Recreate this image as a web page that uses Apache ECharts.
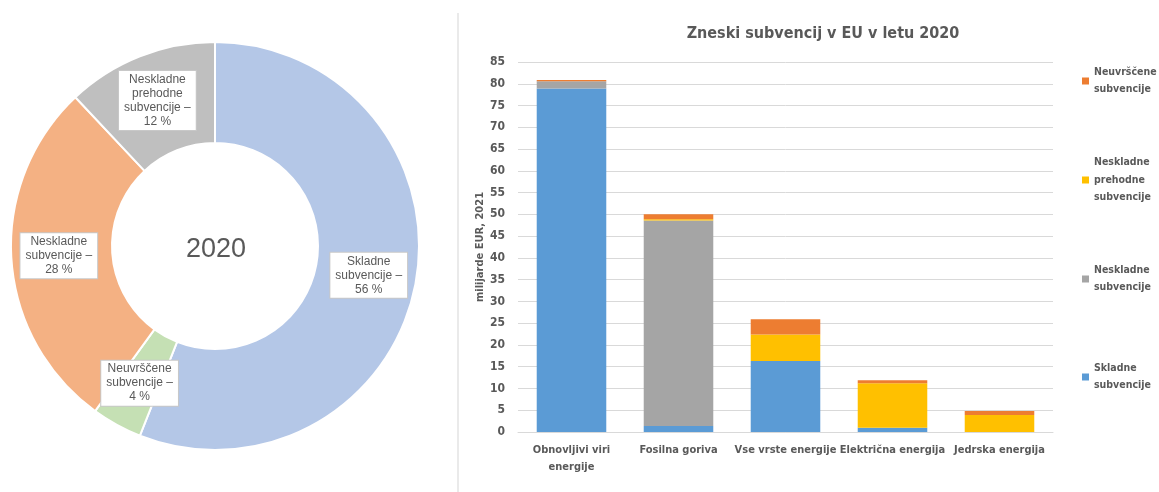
<!DOCTYPE html>
<html>
<head>
<meta charset="utf-8">
<script src="https://cdn.jsdelivr.net/npm/echarts@6/dist/echarts.min.js"></script>
<style>
html,body{margin:0;padding:0;background:#fff;}
#chart{width:1159px;height:492px;}
</style>
</head>
<body>
<div id="chart"></div>
<script>
// ---- Donut data ----
var pieNames = ['Skladne subvencije', 'Neuvrščene subvencije', 'Neskladne subvencije', 'Neskladne prehodne subvencije'];
var pieValues = [56, 4, 28, 12];
var pieColors = ['#b4c7e7', '#c5e0b4', '#f4b183', '#bfbfbf'];
var pieCenterText = '2020';

// ---- Bar data ----
var barTitle = 'Zneski subvencij v EU v letu 2020';
var yAxisName = 'milijarde EUR, 2021';
var categories = ['Obnovljivi viri\nenergije', 'Fosilna goriva', 'Vse vrste energije', 'Električna energija', 'Jedrska energija'];
var seriesNames = ['Skladne subvencije', 'Neskladne subvencije', 'Neskladne prehodne subvencije', 'Neuvrščene subvencije'];
var skladne = [78.9, 1.4, 16.3, 1.0, 0];
var neskladne = [1.7, 47.2, 0, 0, 0];
var prehodne = [0, 0.3, 6.1, 10.2, 3.9];
var neuvrscene = [0.25, 1.1, 3.5, 0.7, 0.9];
var barColors = ['#5b9bd5', '#a5a5a5', '#ffc000', '#ed7d31'];
var legendOrder = ['Neuvrščene subvencije', 'Neskladne prehodne subvencije', 'Neskladne subvencije', 'Skladne subvencije'];

var narrow = "'Liberation Sans Narrow', 'DejaVu Sans Condensed', 'Arial Narrow', sans-serif";
var regular = "'Liberation Sans', Arial, sans-serif";
var txt = '#595959';
var LH = 17.5;

var chart = echarts.init(document.getElementById('chart'), null, {renderer: 'canvas'});

var pieData = pieNames.map(function (n, i) {
  return {name: n, value: pieValues[i], itemStyle: {color: pieColors[i]}};
});

var stacks = [skladne, neskladne, prehodne, neuvrscene];
var barSeries = seriesNames.map(function (n, i) {
  return {
    name: n,
    type: 'bar',
    stack: 'total',
    xAxisIndex: 0,
    yAxisIndex: 0,
    barCategoryGap: '35%',
    itemStyle: {color: barColors[i]},
    data: stacks[i]
  };
});

var legendIconCenters = [81, 180, 279, 377];
var legends = legendOrder.map(function (n, i) {
  var lines = n.split(' ').length;
  return {
    data: [n],
    orient: 'vertical',
    left: 1082,
    top: legendIconCenters[i] - (2 * lines - 1) * LH / 2,
    padding: 0,
    itemWidth: 7,
    itemHeight: 7,
    icon: 'rect',
    selectedMode: false,
    formatter: function (name) { return name.split(' ').join('\n'); },
    textStyle: {
      fontFamily: narrow,
      fontWeight: 'bold',
      fontSize: 10.5,
      color: txt,
      lineHeight: LH,
      padding: [(lines - 1) * LH, 0, 0, 0]
    }
  };
});

var option = {
  animation: false,
  backgroundColor: '#ffffff',
  title: [
    {
      text: barTitle,
      left: 818,
      top: 21,
      textAlign: 'center',
      textStyle: {fontFamily: narrow, fontWeight: 'bold', fontSize: 16, color: txt}
    },
    {
      text: pieCenterText,
      left: 211,
      top: 231,
      textAlign: 'center',
      textStyle: {fontFamily: regular, fontWeight: 'normal', fontSize: 27, color: txt}
    }
  ],
  legend: legends,
  graphic: [
    {
      type: 'line',
      shape: {x1: 458, y1: 13, x2: 458, y2: 492},
      style: {stroke: '#e3e3e3', lineWidth: 1.5},
      silent: true
    }
  ],
  grid: {left: 518, right: 106, top: 62, bottom: 60, containLabel: false},
  xAxis: {
    type: 'category',
    data: categories,
    axisTick: {show: false},
    axisLine: {lineStyle: {color: '#d9d9d9', width: 1}},
    axisLabel: {
      interval: 0,
      margin: 10,
      fontFamily: narrow,
      fontWeight: 'bold',
      fontSize: 11,
      color: txt,
      lineHeight: 17
    }
  },
  yAxis: {
    type: 'value',
    min: 0,
    max: 85,
    interval: 5,
    name: yAxisName,
    nameLocation: 'middle',
    nameRotate: 90,
    nameGap: 32,
    nameTextStyle: {fontFamily: narrow, fontWeight: 'bold', fontSize: 11, color: txt},
    axisLine: {show: false},
    axisTick: {show: false},
    splitLine: {lineStyle: {color: '#d9d9d9', width: 1}},
    axisLabel: {
      margin: 13,
      fontFamily: narrow,
      fontWeight: 'bold',
      fontSize: 12,
      color: txt
    }
  },
  series: [
    {
      type: 'pie',
      center: [215, 246],
      radius: [103, 204],
      startAngle: 90,
      clockwise: true,
      silent: true,
      itemStyle: {borderColor: '#ffffff', borderWidth: 2},
      label: {
        show: true,
        position: 'inside',
        formatter: function (p) {
          return p.name.split(' ').join('\n') + ' –\n' + p.value + ' %';
        },
        fontFamily: regular,
        fontSize: 12,
        lineHeight: 14,
        color: txt,
        backgroundColor: '#ffffff',
        borderColor: '#c8c8c8',
        borderWidth: 1,
        padding: [2, 5, 1, 5]
      },
      labelLine: {show: false},
      data: pieData
    }
  ].concat(barSeries)
};

chart.setOption(option);
</script>
</body>
</html>
